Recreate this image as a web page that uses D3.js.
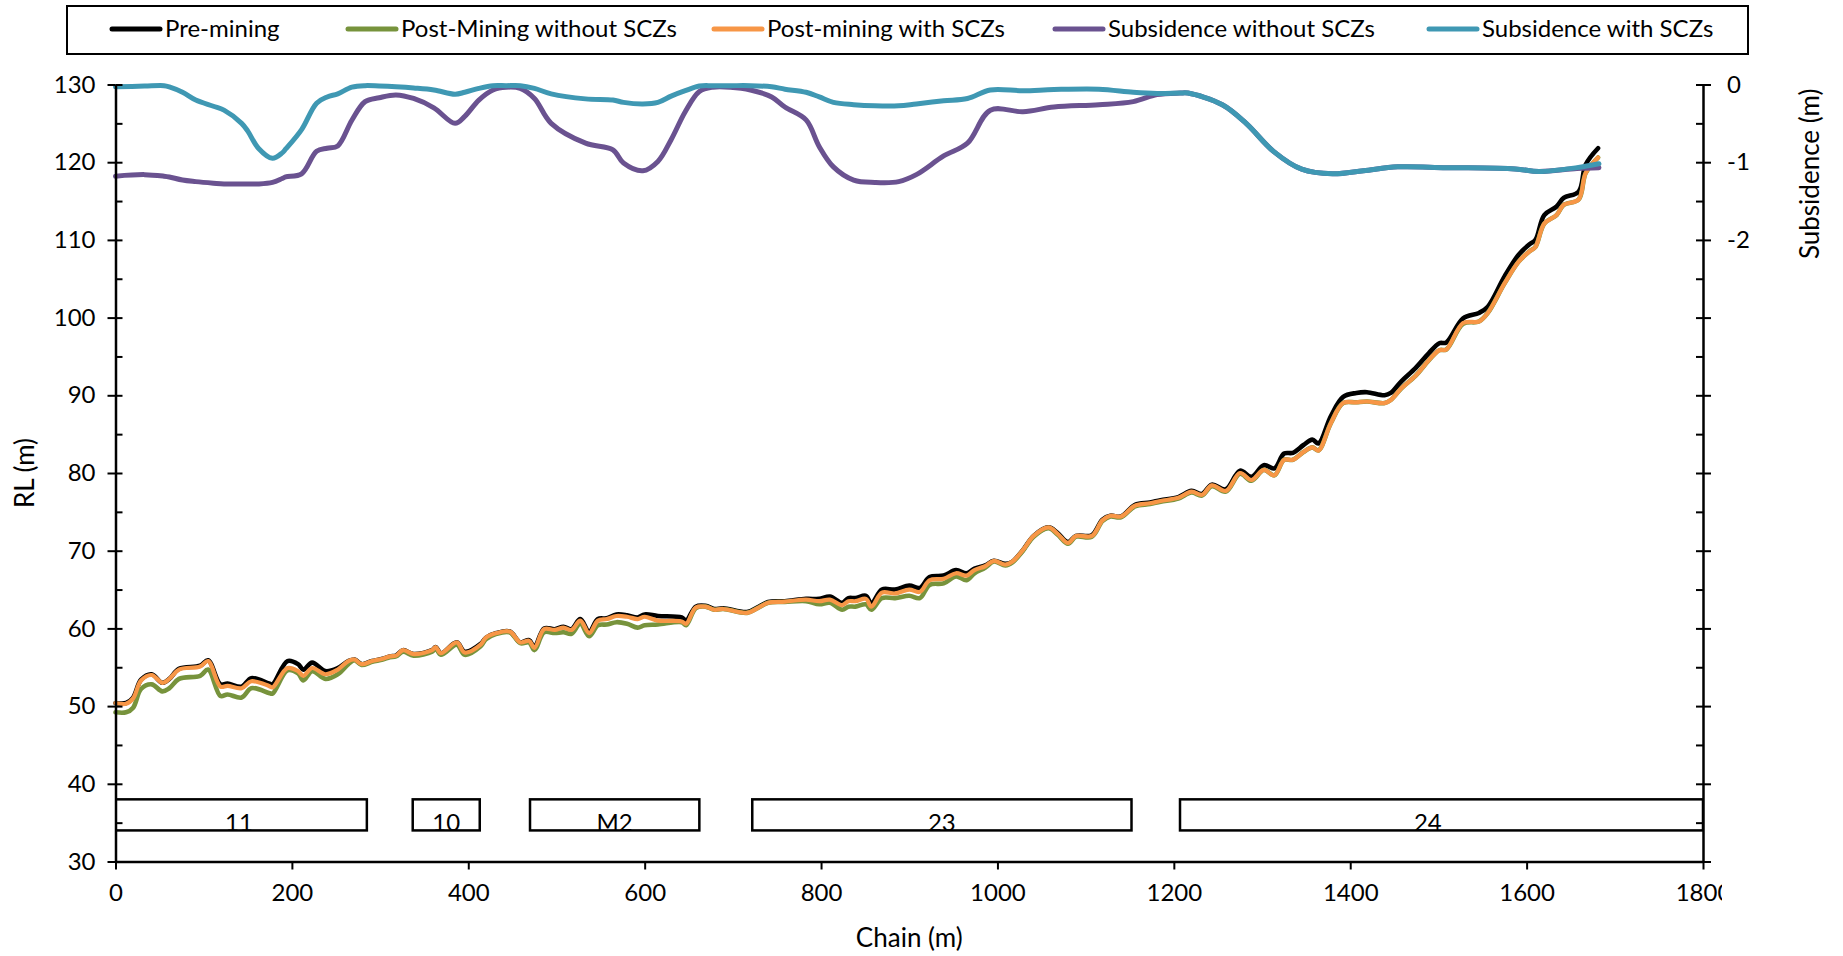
<!DOCTYPE html>
<html>
<head>
<meta charset="utf-8">
<script src="https://cdn.jsdelivr.net/npm/d3@7"></script>
<style>
  body { margin: 0; background: #fff; }
  text { font-family: Lato, "Open Sans", sans-serif; fill: #000; }
</style>
</head>
<body>
<svg width="1843" height="956"></svg>
<script>
// chainage (m) of the ground profile points
const chainT = [0, 12, 20, 29, 41, 53, 61, 72, 96, 105, 119, 127, 143, 154, 174, 178, 195, 207, 213, 223,
    238, 252, 264, 271, 279, 291, 303, 311, 318, 326, 338, 359, 363, 369, 387, 396, 414, 420, 432, 447,
    459, 469, 475, 486, 498, 508, 517, 527, 537, 547, 557, 568, 580, 592, 600, 615, 642, 647, 658, 669,
    679, 689, 716, 728, 740, 759, 783, 798, 810, 824, 831, 839, 851, 857, 869, 884, 900, 912, 923, 939,
    953, 965, 974, 986, 996, 1009, 1017, 1029, 1041, 1058, 1068, 1080, 1089, 1107, 1119, 1128, 1140, 1156, 1173, 1185,
    1205, 1220, 1232, 1243, 1259, 1275, 1288, 1302, 1314, 1325, 1335, 1347, 1357, 1364, 1378, 1392, 1407, 1419, 1439, 1446,
    1458, 1474, 1489, 1501, 1509, 1528, 1546, 1556, 1575, 1591, 1603, 1610, 1620, 1634, 1642, 1659, 1667, 1681];

const preMining = [50.4, 50.4, 51.1, 53.4, 54.1, 53.0, 53.5, 54.8, 55.2, 55.9, 52.8, 52.9, 52.5, 53.6, 52.9, 52.8, 55.8, 55.4, 54.7, 55.6,
    54.5, 54.9, 55.8, 56.0, 55.4, 55.8, 56.1, 56.4, 56.5, 57.2, 56.7, 57.2, 57.6, 56.8, 58.2, 57.0, 58.0, 58.8, 59.4, 59.6,
    58.2, 58.5, 57.6, 60.0, 59.9, 60.2, 59.9, 61.2, 59.6, 61.2, 61.3, 61.8, 61.7, 61.4, 61.8, 61.6, 61.4, 61.0, 62.8, 62.9,
    62.5, 62.6, 62.1, 62.7, 63.4, 63.5, 63.8, 63.8, 64.1, 63.3, 63.9, 63.9, 64.2, 63.2, 65.0, 65.0, 65.5, 65.2, 66.6, 66.8,
    67.5, 67.1, 67.7, 68.1, 68.7, 68.3, 68.6, 70.1, 71.9, 73.0, 72.3, 71.1, 71.9, 72.0, 74.0, 74.5, 74.4, 75.9, 76.2, 76.5,
    76.9, 77.7, 77.3, 78.5, 77.9, 80.3, 79.5, 81.0, 80.6, 82.5, 82.6, 83.6, 84.3, 83.8, 87.3, 89.8, 90.3, 90.4, 90.0, 90.3,
    91.8, 93.5, 95.4, 96.7, 96.8, 99.9, 100.6, 101.4, 105.3, 108.1, 109.4, 110.0, 113.2, 114.3, 115.4, 116.2, 119.7, 121.8];

const postNoSCZ = [49.2, 49.2, 49.8, 52.2, 52.8, 51.9, 52.3, 53.5, 53.9, 54.7, 51.3, 51.5, 51.1, 52.3, 51.7, 51.6, 54.6, 54.2, 53.3, 54.5,
    53.5, 54.1, 55.4, 55.9, 55.3, 55.7, 56.0, 56.3, 56.4, 57.0, 56.5, 57.0, 57.4, 56.6, 57.9, 56.6, 57.7, 58.6, 59.3, 59.5,
    58.1, 58.2, 57.2, 59.5, 59.4, 59.5, 59.3, 60.6, 59.0, 60.4, 60.5, 60.8, 60.6, 60.1, 60.4, 60.5, 60.8, 60.4, 62.6, 62.8,
    62.4, 62.5, 62.0, 62.6, 63.3, 63.4, 63.5, 63.1, 63.3, 62.4, 62.8, 62.8, 63.1, 62.4, 63.9, 63.9, 64.2, 63.9, 65.6, 65.8,
    66.7, 66.2, 67.1, 67.8, 68.6, 68.1, 68.5, 70.0, 71.8, 72.9, 72.1, 70.9, 71.8, 71.8, 73.8, 74.4, 74.3, 75.7, 76.0, 76.3,
    76.7, 77.5, 77.1, 78.3, 77.6, 79.9, 79.0, 80.4, 79.7, 81.7, 81.7, 82.7, 83.3, 82.9, 86.4, 89.0, 89.1, 89.2, 89.0, 89.4,
    90.9, 92.5, 94.5, 95.8, 95.9, 99.2, 99.5, 100.6, 104.4, 107.2, 108.5, 109.1, 112.1, 113.2, 114.5, 115.2, 118.6, 120.6];

const postSCZ = [50.4, 50.3, 51.0, 53.3, 54.0, 53.0, 53.5, 54.7, 55.1, 55.8, 52.5, 52.6, 52.3, 53.2, 52.6, 52.4, 54.9, 54.5, 53.9, 54.9,
    54.1, 54.7, 55.8, 56.0, 55.4, 55.8, 56.1, 56.4, 56.5, 57.2, 56.7, 57.2, 57.6, 56.8, 58.2, 56.9, 57.9, 58.8, 59.4, 59.6,
    58.2, 58.4, 57.5, 59.9, 59.8, 60.1, 59.8, 61.0, 59.4, 61.0, 61.2, 61.6, 61.5, 61.2, 61.5, 61.0, 60.9, 60.6, 62.7, 62.8,
    62.4, 62.5, 62.0, 62.6, 63.3, 63.45, 63.7, 63.5, 63.7, 63.0, 63.5, 63.5, 63.8, 62.8, 64.6, 64.5, 65.0, 64.7, 66.2, 66.4,
    67.1, 66.8, 67.5, 68.0, 68.7, 68.2, 68.6, 70.1, 71.9, 73.0, 72.2, 71.0, 71.9, 71.9, 73.9, 74.5, 74.4, 75.8, 76.1, 76.4,
    76.8, 77.6, 77.2, 78.4, 77.7, 80.0, 79.1, 80.4, 79.7, 81.7, 81.7, 82.7, 83.3, 82.9, 86.4, 89.0, 89.1, 89.2, 89.0, 89.4,
    90.9, 92.5, 94.5, 95.8, 95.9, 99.3, 99.5, 100.6, 104.4, 107.2, 108.5, 109.1, 112.1, 113.2, 114.5, 115.2, 118.6, 120.6];

// chainage (m) of the subsidence points
const chainS = [0, 33, 55, 61, 76, 91, 111, 123, 143, 150, 162, 178, 189, 193, 211, 228, 240, 252, 268, 283,
    299, 318, 338, 361, 385, 396, 412, 428, 443, 459, 475, 494, 533, 564, 576, 598, 615, 630, 646, 662,
    677, 697, 720, 744, 759, 783, 798, 814, 837, 861, 888, 908, 939, 966, 992, 1029, 1064, 1115, 1154, 1181,
    1207, 1216, 1255, 1282, 1313, 1345, 1380, 1415, 1454, 1509, 1587, 1614, 1657, 1682];

const subsNoSCZ = [-1.18, -1.16, -1.18, -1.19, -1.23, -1.25, -1.27, -1.28, -1.28, -1.28, -1.28, -1.26, -1.21, -1.19, -1.15, -0.86, -0.82, -0.79, -0.46, -0.22,
    -0.17, -0.134, -0.18, -0.3, -0.5, -0.41, -0.2, -0.07, -0.035, -0.05, -0.18, -0.5, -0.755, -0.84, -1.01, -1.11, -0.99, -0.71, -0.35, -0.09,
    -0.035, -0.035, -0.07, -0.16, -0.29, -0.456, -0.8, -1.06, -1.23, -1.26, -1.25, -1.16, -0.92, -0.755, -0.33, -0.35, -0.29, -0.26, -0.22, -0.13,
    -0.11, -0.11, -0.26, -0.5, -0.86, -1.09, -1.15, -1.11, -1.06, -1.07, -1.086, -1.12, -1.08, -1.07];

const subsSCZ = [-0.03, -0.02, -0.015, -0.03, -0.1, -0.2, -0.28, -0.33, -0.5, -0.6, -0.82, -0.95, -0.88, -0.83, -0.58, -0.24, -0.16, -0.12, -0.035, -0.015,
    -0.02, -0.03, -0.045, -0.07, -0.125, -0.1, -0.05, -0.015, -0.015, -0.015, -0.05, -0.12, -0.185, -0.2, -0.23, -0.25, -0.23, -0.15, -0.08, -0.02,
    -0.015, -0.015, -0.015, -0.03, -0.06, -0.1, -0.16, -0.23, -0.26, -0.275, -0.275, -0.25, -0.21, -0.18, -0.07, -0.08, -0.065, -0.06, -0.1, -0.115,
    -0.11, -0.11, -0.26, -0.5, -0.86, -1.09, -1.15, -1.11, -1.06, -1.07, -1.086, -1.12, -1.07, -1.02];

// longwall panels along the section
const panelNames = ["11", "10", "M2", "23", "24"];
const panelStart = [0, 337, 470, 722, 1207];
const panelEnd = [285, 413, 662, 1152, 1800];
const panelLabelAt = [140, 375, 566, 937, 1488];
const panelTop = 38;
const panelBottom = 34;

const rlTicks = [30, 40, 50, 60, 70, 80, 90, 100, 110, 120, 130];
const chainTicks = [0, 200, 400, 600, 800, 1000, 1200, 1400, 1600, 1800];
const subsTicks = [0, -1, -2, -3, -4, -5, -6, -7, -8, -9, -10];
const subsLabelled = [0, -1, -2];

const seriesNames = ["Pre-mining", "Post-Mining without SCZs", "Post-mining with SCZs", "Subsidence without SCZs", "Subsidence with SCZs"];
const seriesColors = ["#000000", "#77933c", "#f79646", "#6a5290", "#3f98b3"];

const svg = d3.select("svg");

const x = d3.scaleLinear().domain([0, 1800]).range([115.5, 1703]);
const y = d3.scaleLinear().domain([30, 130]).range([861.5, 84.5]);
const ySub = d3.scaleLinear().domain([-10, 0]).range([861.5, 84.5]);

svg.append("clipPath").attr("id", "plot")
    .append("rect").attr("x", x(0)).attr("y", 70).attr("width", x(1800) - x(0)).attr("height", 800);

const curve = d3.curveCatmullRom.alpha(0.5);
const groundLine = values => d3.line().curve(curve).x((d, i) => x(chainT[i])).y(d => y(d))(values);
const subsLine = values => d3.line().curve(curve).x((d, i) => x(chainS[i])).y(d => ySub(d))(values);

// panels
const panels = svg.append("g").attr("clip-path", "url(#plot)");
panelNames.forEach((name, i) => {
    panels.append("rect")
        .attr("x", x(panelStart[i]))
        .attr("y", y(panelTop))
        .attr("width", x(panelEnd[i]) - x(panelStart[i]))
        .attr("height", y(panelBottom) - y(panelTop))
        .attr("fill", "none")
        .attr("stroke", "#000")
        .attr("stroke-width", 2.5);
    panels.append("text")
        .attr("x", x(panelLabelAt[i]))
        .attr("y", y(panelBottom) + 1)
        .attr("text-anchor", "middle")
        .attr("font-size", 24)
        .text(name);
});

// series
const lines = svg.append("g").attr("fill", "none").attr("stroke-linejoin", "round").attr("stroke-linecap", "round");
lines.append("path").attr("d", groundLine(preMining)).attr("stroke", seriesColors[0]).attr("stroke-width", 4.6);
lines.append("path").attr("d", groundLine(postNoSCZ)).attr("stroke", seriesColors[1]).attr("stroke-width", 4.6);
lines.append("path").attr("d", groundLine(postSCZ)).attr("stroke", seriesColors[2]).attr("stroke-width", 4.2);
lines.append("path").attr("d", subsLine(subsNoSCZ)).attr("stroke", seriesColors[3]).attr("stroke-width", 5);
lines.append("path").attr("d", subsLine(subsSCZ)).attr("stroke", seriesColors[4]).attr("stroke-width", 5);

// axes
const styleAxis = g => {
    g.select(".domain").attr("stroke", "#000").attr("stroke-width", 2.5);
    g.selectAll(".tick line").attr("stroke", "#000").attr("stroke-width", 2);
    g.selectAll(".tick text").attr("font-size", 24).attr("font-family", "Lato, 'Open Sans', sans-serif");
};

svg.append("g")
    .attr("transform", `translate(${x(0)},0)`)
    .call(d3.axisLeft(y).tickValues(rlTicks).tickSizeInner(8).tickSizeOuter(0).tickPadding(12))
    .call(styleAxis);
svg.append("g")
    .attr("transform", `translate(${x(0)},0)`)
    .call(d3.axisRight(y).tickValues(rlTicks.map(v => v + 5).filter(v => v < 130)).tickSize(7).tickFormat(""))
    .call(styleAxis)
    .call(g => g.select(".domain").remove());
svg.append("g")
    .attr("transform", `translate(${x(0)},0)`)
    .call(d3.axisRight(y).tickValues(rlTicks).tickSize(7).tickFormat(""))
    .call(styleAxis)
    .call(g => g.select(".domain").remove());

svg.append("g")
    .attr("transform", `translate(${x(1800)},0)`)
    .call(d3.axisRight(ySub).tickValues(subsTicks).tickSizeInner(8).tickSizeOuter(0).tickPadding(16)
        .tickFormat(d => (subsLabelled.includes(d) ? String(d) : "")))
    .call(styleAxis);
svg.append("g")
    .attr("transform", `translate(${x(1800)},0)`)
    .call(d3.axisLeft(ySub).tickValues(subsTicks.map(v => v - 0.5).filter(v => v > -10)).tickSize(7).tickFormat(""))
    .call(styleAxis)
    .call(g => g.select(".domain").remove());
svg.append("g")
    .attr("transform", `translate(${x(1800)},0)`)
    .call(d3.axisLeft(ySub).tickValues(subsTicks).tickSize(7).tickFormat(""))
    .call(styleAxis)
    .call(g => g.select(".domain").remove());

// the last chainage label is cut by the chart edge
svg.append("clipPath").attr("id", "xlab")
    .append("rect").attr("x", 0).attr("y", 840).attr("width", 1722).attr("height", 80);
svg.append("g")
    .attr("clip-path", "url(#xlab)")
    .append("g")
    .attr("transform", `translate(0,${y(30)})`)
    .call(d3.axisBottom(x).tickValues(chainTicks).tickFormat(d3.format("d"))
        .tickSizeInner(8).tickSizeOuter(0).tickPadding(14))
    .call(styleAxis);

// axis titles
svg.append("text")
    .attr("transform", `translate(34,${(y(130) + y(30)) / 2}) rotate(-90)`)
    .attr("text-anchor", "middle")
    .attr("font-size", 26)
    .text("RL (m)");
svg.append("text")
    .attr("transform", `translate(1819,${ySub(-1.15)}) rotate(-90)`)
    .attr("text-anchor", "middle")
    .attr("font-size", 26)
    .text("Subsidence (m)");
svg.append("text")
    .attr("x", (x(0) + x(1800)) / 2)
    .attr("y", 947)
    .attr("text-anchor", "middle")
    .attr("font-size", 26)
    .text("Chain (m)");

// legend
const legend = svg.append("g");
legend.append("rect")
    .attr("x", 67).attr("y", 6).attr("width", 1681).attr("height", 48)
    .attr("fill", "#fff").attr("stroke", "#000").attr("stroke-width", 2);
const legendX = [112, 348, 714, 1055, 1429];
seriesNames.forEach((name, i) => {
    legend.append("line")
        .attr("x1", legendX[i]).attr("x2", legendX[i] + 48)
        .attr("y1", 29).attr("y2", 29)
        .attr("stroke", seriesColors[i]).attr("stroke-width", 5).attr("stroke-linecap", "round");
    legend.append("text")
        .attr("x", legendX[i] + 53).attr("y", 29).attr("dy", "0.35em")
        .attr("font-size", 24)
        .text(name);
});
</script>
</body>
</html>
